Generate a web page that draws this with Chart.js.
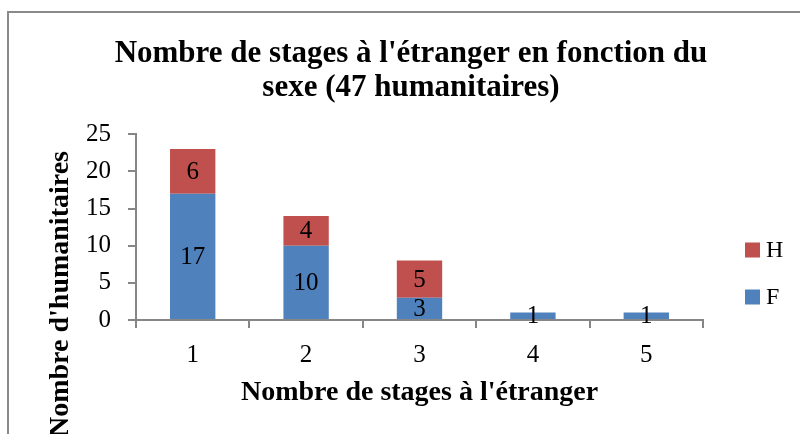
<!DOCTYPE html>
<html>
<head>
<meta charset="utf-8">
<script src="https://cdn.jsdelivr.net/npm/chart.js@4.4.1/dist/chart.umd.min.js"></script>
<style>
  html, body { margin: 0; padding: 0; background: #fff; overflow: hidden; }
  #wrap { position: relative; width: 800px; height: 434px; }
  #frame { position: absolute; left: 7px; top: 11px; width: 900px; height: 500px; border: 2px solid #8a8a8a; box-sizing: border-box; }
  #c { position: absolute; left: 0; top: 0; }
</style>
</head>
<body>
<div id="wrap">
  <div id="frame"></div>
  <canvas id="c" width="800" height="434"></canvas>
</div>
<script>
  const categories = ['1', '2', '3', '4', '5'];
  const femmes = [17, 10, 3, 1, 1];
  const hommes = [6, 4, 5, 0, 0];
  const yTicks = [0, 5, 10, 15, 20, 25];

  const serif = "'Liberation Serif', 'DejaVu Serif', serif";
  const axisGrey = '#868686';

  // labels centred in each bar segment
  const segmentLabels = {
    id: 'segmentLabels',
    afterDatasetsDraw(chart) {
      const ctx = chart.ctx;
      ctx.save();
      ctx.font = '25px ' + serif;
      ctx.fillStyle = '#000';
      ctx.textAlign = 'center';
      ctx.textBaseline = 'middle';
      chart.data.datasets.forEach((ds, i) => {
        chart.getDatasetMeta(i).data.forEach((bar, j) => {
          const v = ds.data[j];
          if (!v) return;
          ctx.fillText(String(v), bar.x, (bar.y + bar.base) / 2 + 1);
        });
      });
      ctx.restore();
    }
  };

  // y title + legend, placed like the excel original
  const extras = {
    id: 'extras',
    afterDraw(chart) {
      const ctx = chart.ctx;
      ctx.save();
      ctx.fillStyle = '#000';
      ctx.font = 'bold 28px ' + serif;
      ctx.textAlign = 'center';
      ctx.textBaseline = 'middle';
      ctx.translate(61, 294);
      ctx.rotate(-Math.PI / 2);
      ctx.fillText("Nombre d'humanitaires", 0, 0);
      ctx.restore();

      ctx.save();
      ctx.font = '24px ' + serif;
      ctx.textBaseline = 'middle';
      const items = chart.data.datasets.slice().reverse();
      items.forEach((ds, k) => {
        const cy = 250 + k * 47;
        ctx.fillStyle = ds.backgroundColor;
        ctx.fillRect(745, cy - 7.5, 15, 15);
        ctx.fillStyle = '#000';
        ctx.fillText(ds.label, 766, cy + 1);
      });
      ctx.restore();
    }
  };

  new Chart(document.getElementById('c'), {
    type: 'bar',
    data: {
      labels: categories,
      datasets: [
        { label: 'F', data: femmes, backgroundColor: '#4F81BD', borderWidth: 0 },
        { label: 'H', data: hommes, backgroundColor: '#C0504D', borderWidth: 0 }
      ]
    },
    options: {
      responsive: false,
      animation: false,
      datasets: { bar: { categoryPercentage: 1, barPercentage: 0.4 } },
      layout: { padding: { left: 22, right: 0, top: 0, bottom: 0 } },
      plugins: {
        legend: { display: false },
        tooltip: { enabled: false },
        title: {
          display: true,
          text: ["Nombre de stages à l'étranger en fonction du", 'sexe (47 humanitaires)'],
          color: '#000',
          font: { family: serif, size: 31, weight: 'bold', lineHeight: 1.1 },
          padding: { top: 37, bottom: 29 }
        }
      },
      scales: {
        x: {
          stacked: true,
          offset: true,
          grid: { offset: true, drawOnChartArea: false, drawTicks: true, tickLength: 8, color: axisGrey, lineWidth: 2 },
          border: { display: true, color: axisGrey, width: 2 },
          ticks: { color: '#000', font: { family: serif, size: 25 }, padding: 12 },
          title: {
            display: true,
            text: "Nombre de stages à l'étranger",
            color: '#000',
            font: { family: serif, size: 28, weight: 'bold', lineHeight: 1.2 },
            padding: { top: 4, bottom: 24 }
          },
          afterFit(scale) { scale.height = 114; }
        },
        y: {
          stacked: true,
          min: 0,
          max: 25,
          afterBuildTicks(scale) { scale.ticks = yTicks.map(v => ({ value: v })); },
          grid: { drawOnChartArea: false, drawTicks: true, tickLength: 8, color: axisGrey, lineWidth: 2 },
          border: { display: true, color: axisGrey, width: 2 },
          ticks: { color: '#000', font: { family: serif, size: 25 }, padding: 17 },
          afterFit(scale) { scale.width = 114; }
        },
        // empty right-hand box that keeps room for the legend
        legendRoom: {
          type: 'linear',
          position: 'right',
          display: true,
          grid: { display: false },
          border: { display: false },
          ticks: { display: false },
          afterFit(scale) { scale.width = 97; }
        }
      }
    },
    plugins: [segmentLabels, extras]
  });
</script>
</body>
</html>
